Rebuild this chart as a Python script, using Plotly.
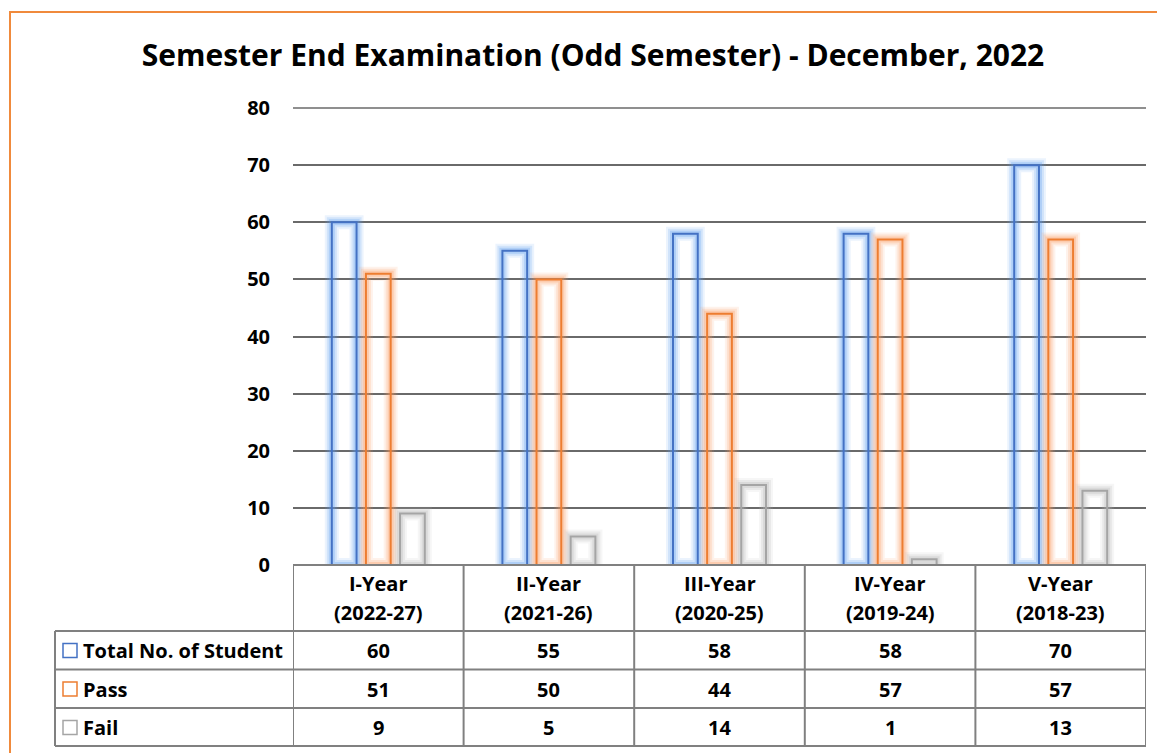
import plotly.graph_objects as go

categories_line1 = ["I-Year", "II-Year", "III-Year", "IV-Year", "V-Year"]
categories_line2 = ["(2022-27)", "(2021-26)", "(2020-25)", "(2019-24)", "(2018-23)"]
series_names = ["Total No. of Student", "Pass", "Fail"]
total_students = [60, 55, 58, 58, 70]
passed = [51, 50, 44, 57, 57]
failed = [9, 5, 14, 1, 13]
y_ticks = [0, 10, 20, 30, 40, 50, 60, 70, 80]

title_text = "Semester End Examination (Odd Semester) - December, 2022"

# page body has an 8px margin; work in screen coordinates and shift
OFF = 8
W, H = 1165 - OFF, 753 - OFF
L, R, T, B = 293, 1146, 108, 565   # plot area in screen pixels
FONT = "Open Sans"

def px_x(p):
    return (p - L) / (R - L)

def px_y(p):
    return (B - p) / (B - T)

xs = list(range(len(categories_line1)))
series = [total_students, passed, failed]
colors = ["#4472C4", "#ED7D31", "#A5A5A5"]
glow_rgb = [(91, 155, 240), (250, 150, 90), (180, 180, 180)]
centers = [-0.2, 0.0, 0.2]
bw = 0.145
grid_col = "#6a6a6a"

fig = go.Figure()
for vals, col, g, c, name in zip(series, colors, glow_rgb, centers, series_names):
    for lw, a in [(14, 0.12), (10, 0.18), (6, 0.28)]:
        fig.add_trace(go.Bar(
            x=xs, y=vals, offset=c - bw / 2, width=bw,
            marker=dict(color="rgba(0,0,0,0)",
                        line=dict(color=f"rgba({g[0]},{g[1]},{g[2]},{a})", width=lw)),
            hoverinfo="skip", showlegend=False))
    fig.add_trace(go.Bar(
        x=xs, y=vals, offset=c - bw / 2, width=bw, name=name,
        marker=dict(color="rgba(0,0,0,0)", line=dict(color=col, width=2)),
        showlegend=False))

shapes = []
line_col = "#808080"
# top gridline (axis range top edge, which is the last tick)
shapes.append(dict(type="line", xref="paper", yref="paper", x0=0, x1=1,
                   y0=1, y1=1, line=dict(color=grid_col, width=1.5), layer="below"))
# outer orange border
shapes.append(dict(type="rect", xref="paper", yref="paper",
                   x0=px_x(10), x1=px_x(1190), y0=px_y(790), y1=px_y(12),
                   line=dict(color="#F08A3C", width=2), fillcolor="rgba(0,0,0,0)", layer="below"))
# table horizontal lines
shapes.append(dict(type="line", xref="paper", yref="paper", x0=0, x1=1, y0=0, y1=0,
                   line=dict(color=line_col, width=2)))
row_lines = [631, 669.5, 708, 746]
for ry in row_lines:
    shapes.append(dict(type="line", xref="paper", yref="paper",
                       x0=px_x(55), x1=1, y0=px_y(ry), y1=px_y(ry),
                       line=dict(color=line_col, width=2)))
# vertical lines at category boundaries
for i in range(len(xs) + 1):
    shapes.append(dict(type="line", xref="x", yref="paper", x0=i - 0.5, x1=i - 0.5,
                       y0=0, y1=px_y(746), line=dict(color=line_col, width=2)))
# left edge of the series column
shapes.append(dict(type="line", xref="paper", yref="paper", x0=px_x(55), x1=px_x(55),
                   y0=px_y(631), y1=px_y(746), line=dict(color=line_col, width=2)))

annotations = []
tfont = dict(family=FONT, size=20, color="black", weight="bold")
row_centers = [650.5, 689, 727.5]
for name, col, vals, ry in zip(series_names, colors, series, row_centers):
    shapes.append(dict(type="rect", xref="paper", yref="paper",
                       x0=px_x(63), x1=px_x(77), y0=px_y(ry + 7), y1=px_y(ry - 7),
                       line=dict(color=col, width=1.5), fillcolor="white"))
    annotations.append(dict(xref="paper", yref="paper", x=px_x(81), y=px_y(ry),
                            text=name, showarrow=False, xanchor="left", yanchor="middle",
                            font=tfont))
    for xi, v in zip(xs, vals):
        annotations.append(dict(xref="x", yref="paper", x=xi, y=px_y(ry),
                                text=str(v), showarrow=False, xanchor="center", yanchor="middle",
                                font=tfont))
for xi, a, b in zip(xs, categories_line1, categories_line2):
    annotations.append(dict(xref="x", yref="paper", x=xi, y=px_y(583),
                            text=a, showarrow=False, xanchor="center", yanchor="middle",
                            font=tfont))
    annotations.append(dict(xref="x", yref="paper", x=xi, y=px_y(612),
                            text=b, showarrow=False, xanchor="center", yanchor="middle",
                            font=tfont))

fig.update_layout(
    width=W, height=H, autosize=False,
    margin=dict(l=L - OFF, r=W - (R - OFF), t=T - OFF, b=H - (B - OFF), pad=0),
    paper_bgcolor="white", plot_bgcolor="white",
    barmode="overlay",
    title=dict(text=title_text, x=(593 - OFF) / W, xanchor="center", y=1 - (55 - OFF) / H,
               yanchor="middle",
               font=dict(family=FONT, size=30, color="black", weight="bold")),
    xaxis=dict(range=[-0.5, 4.5], showgrid=False, showticklabels=False, zeroline=False,
               showline=False, fixedrange=True),
    yaxis=dict(range=[0, 80], tickvals=y_ticks, showgrid=True, gridcolor=grid_col, gridwidth=1.5,
               zeroline=False, showline=False, ticks="", ticklabelstandoff=22,
               tickfont=dict(family=FONT, size=20, color="black", weight="bold"), fixedrange=True),
    shapes=shapes,
    annotations=annotations,
    showlegend=False,
)

fig.write_html("out.html")
